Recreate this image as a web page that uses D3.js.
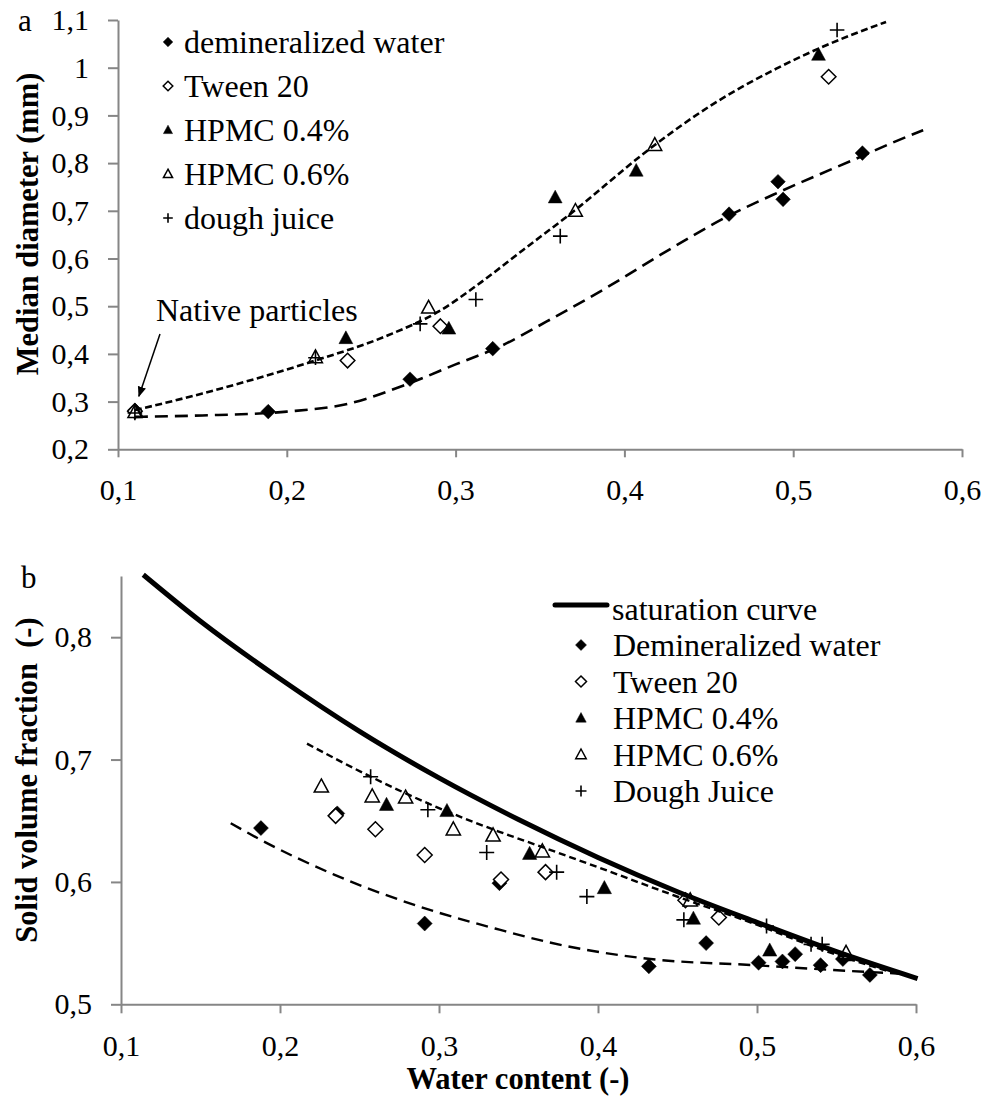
<!DOCTYPE html>
<html>
<head>
<meta charset="utf-8">
<script src="https://cdn.jsdelivr.net/npm/d3@7"></script>
<style>
  body { margin: 0; background: #fff; }
  svg text { font-family: "Liberation Serif", "Tinos", "DejaVu Serif", serif; fill: #000; }
</style>
</head>
<body>
<svg id="chart" width="985" height="1097"></svg>
<script>
// ---- data ----
const seriesNamesA = ["demineralized water", "Tween 20", "HPMC 0.4%", "HPMC 0.6%", "dough juice"];
const seriesNamesB = ["Demineralized water", "Tween 20", "HPMC 0.4%", "HPMC 0.6%", "Dough Juice"];
const markerTypes = ["diamond", "openDiamond", "triangle", "openTriangle", "plus"];

const xTicks = [0.1, 0.2, 0.3, 0.4, 0.5, 0.6];
const aYTicks = [0.2, 0.3, 0.4, 0.5, 0.6, 0.7, 0.8, 0.9, 1.0, 1.1];
const bYTicks = [0.5, 0.6, 0.7, 0.8];

// panel a : median diameter vs water content
const aWater = [[0.110, 0.282], [0.189, 0.279], [0.273, 0.347], [0.322, 0.411], [0.462, 0.693], [0.491, 0.761], [0.494, 0.724], [0.541, 0.821]];
const aTween = [[0.110, 0.280], [0.236, 0.386], [0.291, 0.458], [0.521, 0.981]];
const aHpmc04 = [[0.111, 0.278], [0.235, 0.433], [0.296, 0.453], [0.359, 0.728], [0.407, 0.784], [0.515, 1.027]];
const aHpmc06 = [[0.110, 0.278], [0.217, 0.393], [0.284, 0.497], [0.371, 0.700], [0.418, 0.838]];
const aJuice = [[0.110, 0.276], [0.217, 0.392], [0.279, 0.463], [0.312, 0.514], [0.362, 0.647], [0.526, 1.079]];

const aFitUpper = [[0.110, 0.282], [0.150, 0.317], [0.215, 0.384], [0.260, 0.439], [0.290, 0.489], [0.315, 0.550], [0.340, 0.618], [0.366, 0.688], [0.418, 0.838], [0.450, 0.918], [0.490, 0.998], [0.515, 1.040], [0.555, 1.096]];
const aFitLower = [[0.110, 0.268], [0.150, 0.271], [0.200, 0.279], [0.237, 0.296], [0.273, 0.339], [0.300, 0.378], [0.326, 0.415], [0.354, 0.468], [0.390, 0.540], [0.422, 0.609], [0.462, 0.690], [0.494, 0.743], [0.541, 0.815], [0.559, 0.843], [0.577, 0.869]];

// panel b : solid volume fraction vs water content
const bWater = [[0.188, 0.644], [0.236, 0.656], [0.291, 0.566], [0.338, 0.599], [0.432, 0.531], [0.468, 0.550], [0.501, 0.534], [0.516, 0.535], [0.524, 0.541], [0.540, 0.532], [0.554, 0.537], [0.571, 0.524]];
const bTween = [[0.235, 0.654], [0.260, 0.643], [0.291, 0.622], [0.339, 0.602], [0.367, 0.608], [0.455, 0.585], [0.476, 0.571]];
const bHpmc04 = [[0.267, 0.663], [0.305, 0.658], [0.357, 0.623], [0.404, 0.595], [0.460, 0.570], [0.508, 0.544], [0.556, 0.540]];
const bHpmc06 = [[0.226, 0.678], [0.258, 0.670], [0.279, 0.669], [0.309, 0.643], [0.334, 0.638], [0.365, 0.625], [0.458, 0.585], [0.556, 0.542]];
const bJuice = [[0.257, 0.686], [0.293, 0.659], [0.330, 0.624], [0.374, 0.608], [0.393, 0.588], [0.454, 0.569], [0.506, 0.564], [0.534, 0.549], [0.541, 0.549]];

const bSaturation = [[0.114, 0.851], [0.150, 0.813], [0.200, 0.766], [0.250, 0.723], [0.300, 0.685], [0.350, 0.651], [0.400, 0.620], [0.450, 0.592], [0.500, 0.567], [0.550, 0.543], [0.601, 0.521]];
const bFitUpper = [[0.217, 0.713], [0.257, 0.686], [0.297, 0.662], [0.338, 0.641], [0.366, 0.628], [0.400, 0.612], [0.452, 0.587], [0.498, 0.566], [0.540, 0.545], [0.585, 0.526]];
const bFitLower = [[0.169, 0.648], [0.187, 0.635], [0.234, 0.606], [0.297, 0.576], [0.338, 0.561], [0.368, 0.551], [0.433, 0.537], [0.498, 0.532], [0.548, 0.528], [0.590, 0.525]];

const seriesA = [aWater, aTween, aHpmc04, aHpmc06, aJuice];
const seriesB = [bWater, bTween, bHpmc04, bHpmc06, bJuice];

// ---- helpers ----
const svg = d3.select("#chart");
const axisGrey = "#868686";
const serif = "'Liberation Serif', 'Tinos', 'DejaVu Serif', serif";
const fmt = d => (Math.round(d * 10) / 10).toString().replace(".", ",");

function markerPath(type, s) {
    if (type === "diamond" || type === "openDiamond")
        return `M0,${-s}L${s},0L0,${s}L${-s},0Z`;
    if (type === "triangle" || type === "openTriangle")
        return `M0,${-s}L${s * 0.95},${s * 0.75}L${-s * 0.95},${s * 0.75}Z`;
    return `M${-s},0H${s}M0,${-s}V${s}`;
}

function drawMarker(g, type, x, y, s) {
    const open = type.startsWith("open");
    const plus = type === "plus";
    g.append("path")
        .attr("d", markerPath(type, s))
        .attr("transform", `translate(${x},${y})`)
        .attr("fill", plus ? "none" : (open ? "#fff" : "#000"))
        .attr("stroke", "#000")
        .attr("stroke-width", plus ? 1.6 : (open ? 1.5 : 0.5));
}

function styleAxis(g) {
    g.attr("font-family", serif);
    g.select(".domain").attr("stroke", axisGrey).attr("stroke-width", 2);
    g.selectAll(".tick line").attr("stroke", axisGrey).attr("stroke-width", 2);
    g.selectAll(".tick text").attr("font-size", 30).style("font-family", serif);
}

// ---- panel a ----
const xA = d3.scaleLinear().domain([0.1, 0.6]).range([118, 962]);
const yA = d3.scaleLinear().domain([0.2, 1.1]).range([449.3, 20]);

const gA = svg.append("g").attr("id", "panel-a").style("font-family", serif);

gA.append("g")
    .attr("transform", `translate(0,${yA(0.2)})`)
    .call(d3.axisBottom(xA).tickValues(xTicks).tickSize(8).tickSizeOuter(0).tickPadding(21).tickFormat(fmt))
    .call(styleAxis);

gA.append("g")
    .attr("transform", `translate(${xA(0.1)},0)`)
    .call(d3.axisLeft(yA).tickValues(aYTicks).tickSize(10).tickSizeOuter(0).tickPadding(19).tickFormat(fmt))
    .call(styleAxis);

const lineA = d3.line().x(d => xA(d[0])).y(d => yA(d[1])).curve(d3.curveMonotoneX);

seriesA.forEach((pts, i) => {
    pts.forEach(p => drawMarker(gA, markerTypes[i], xA(p[0]), yA(p[1]), 7.3));
});

gA.append("path").datum(aFitUpper)
    .attr("d", lineA).attr("fill", "none").attr("stroke", "#000")
    .attr("stroke-width", 2.6).attr("stroke-dasharray", "7,3.5");

gA.append("path").datum(aFitLower)
    .attr("d", lineA).attr("fill", "none").attr("stroke", "#000")
    .attr("stroke-width", 2.6).attr("stroke-dasharray", "13,7");

// legend a
seriesNamesA.forEach((name, i) => {
    const cy = 42 + i * 44;
    drawMarker(gA, markerTypes[i], 168, cy, 4.8);
    gA.append("text").attr("x", 184).attr("y", cy).attr("dy", "0.35em")
        .attr("font-size", 32).text(name);
});

// native particles annotation
svg.append("defs").append("marker")
    .attr("id", "arrowhead").attr("viewBox", "0 0 10 10")
    .attr("refX", 9).attr("refY", 5)
    .attr("markerWidth", 7).attr("markerHeight", 7)
    .attr("orient", "auto")
    .append("path").attr("d", "M0,1L10,5L0,9Z").attr("fill", "#000");

gA.append("text").attr("x", 156).attr("y", 321).attr("font-size", 32).text("Native particles");
gA.append("line")
    .attr("x1", 160).attr("y1", 334)
    .attr("x2", xA(0.11) + 4).attr("y2", yA(0.282) - 14)
    .attr("stroke", "#000").attr("stroke-width", 1.5)
    .attr("marker-end", "url(#arrowhead)");

gA.append("text").attr("x", 18).attr("y", 31).attr("font-size", 31).text("a");

gA.append("text")
    .attr("transform", `translate(38,224) rotate(-90)`)
    .attr("text-anchor", "middle").attr("font-size", 30.5).attr("font-weight", "bold")
    .text("Median diameter (mm)");

// ---- panel b ----
const xB = d3.scaleLinear().domain([0.1, 0.6]).range([121, 916]);
const yB = d3.scaleLinear().domain([0.5, 0.85]).range([1004.3, 576]);

const gB = svg.append("g").attr("id", "panel-b").style("font-family", serif);

gB.append("g")
    .attr("transform", `translate(0,${yB(0.5)})`)
    .call(d3.axisBottom(xB).tickValues(xTicks).tickSize(9).tickSizeOuter(0).tickPadding(21).tickFormat(fmt))
    .call(styleAxis);

gB.append("g")
    .attr("transform", `translate(${xB(0.1)},0)`)
    .call(d3.axisLeft(yB).tickValues(bYTicks).tickSize(10).tickSizeOuter(0).tickPadding(19).tickFormat(fmt))
    .call(styleAxis);

const lineB = d3.line().x(d => xB(d[0])).y(d => yB(d[1])).curve(d3.curveMonotoneX);

seriesB.forEach((pts, i) => {
    pts.forEach(p => drawMarker(gB, markerTypes[i], xB(p[0]), yB(p[1]), 7.5));
});

gB.append("path").datum(bSaturation)
    .attr("d", lineB).attr("fill", "none").attr("stroke", "#000")
    .attr("stroke-width", 5);

gB.append("path").datum(bFitUpper)
    .attr("d", lineB).attr("fill", "none").attr("stroke", "#000")
    .attr("stroke-width", 2.4).attr("stroke-dasharray", "7,4");

gB.append("path").datum(bFitLower)
    .attr("d", lineB).attr("fill", "none").attr("stroke", "#000")
    .attr("stroke-width", 2.4).attr("stroke-dasharray", "12,7");

// legend b
gB.append("line").attr("x1", 555).attr("x2", 607).attr("y1", 605).attr("y2", 605)
    .attr("stroke", "#000").attr("stroke-width", 5).attr("stroke-linecap", "round");
gB.append("text").attr("x", 612).attr("y", 609).attr("dy", "0.35em")
    .attr("font-size", 32).text("saturation curve");

seriesNamesB.forEach((name, i) => {
    const cy = 645 + i * 36.5;
    drawMarker(gB, markerTypes[i], 581, cy, 5.5);
    gB.append("text").attr("x", 613).attr("y", cy).attr("dy", "0.35em")
        .attr("font-size", 32).text(name);
});

gB.append("text").attr("x", 21).attr("y", 588).attr("font-size", 31).text("b");

gB.append("text")
    .attr("transform", `translate(37,780) rotate(-90)`)
    .attr("text-anchor", "middle").attr("font-size", 30.5).attr("font-weight", "bold")
    .style("white-space", "pre")
    .text("Solid volume fraction  (-)");

gB.append("text")
    .attr("x", 518).attr("y", 1089)
    .attr("text-anchor", "middle").attr("font-size", 30.5).attr("font-weight", "bold")
    .text("Water content (-)");
</script>
</body>
</html>
